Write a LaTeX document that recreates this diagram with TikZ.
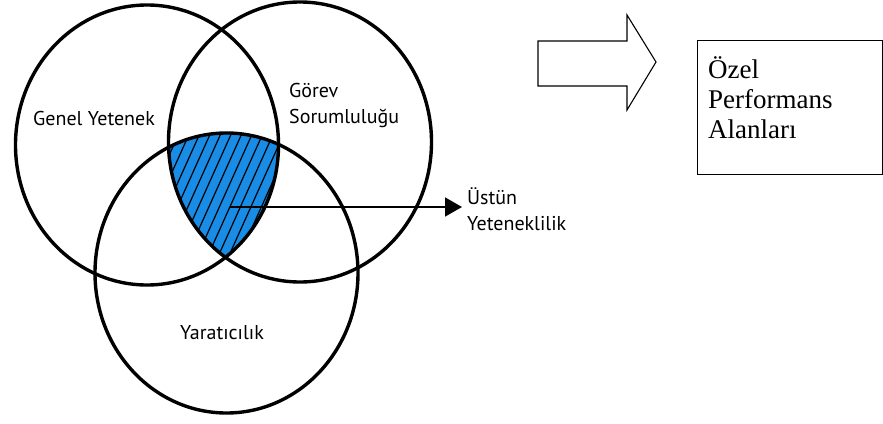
\documentclass[tikz,border=0pt]{standalone}
\usepackage{fontspec}
\setmainfont{Liberation Serif}
\newfontfamily\vennfont{PT Sans}
\usetikzlibrary{arrows.meta}
\definecolor{vennblue}{RGB}{25,140,230}
\tikzset{
  vennline/.style={line width=3.4pt, black},
  vennlabel/.style={font=\vennfont\fontsize{20}{26}\selectfont, anchor=base west, inner sep=0pt, align=left},
  hatchline/.style={line width=1.2pt, black},
  outlinearrow/.style={line width=1.1pt, black, line join=miter},
  plainbox/.style={draw, line width=1.1pt, minimum width=185pt, minimum height=134pt, inner sep=0pt, anchor=north west},
  boxtext/.style={font=\fontsize{27}{30}\selectfont, anchor=base west, inner sep=0pt, align=left}
}
\begin{document}
\begin{tikzpicture}[x=1pt,y=-1pt]
\useasboundingbox[fill=white] (0,0) rectangle (883,423);
% hatched intersection
\begin{scope}
  \clip (147,145) ellipse [x radius=131.5pt, y radius=140pt];
  \clip (300,142) ellipse [x radius=131.5pt, y radius=140pt];
  \clip (226.5,273) ellipse [x radius=131.5pt, y radius=140pt];
  \fill[vennblue] (140,120) rectangle (300,270);
  \foreach \k in {0,...,30} {
    \draw[hatchline] (62+\k*10.5,300) -- (152+\k*10.5,100);
  }
\end{scope}
% circles
\draw[vennline] (147,145) ellipse [x radius=131.5pt, y radius=140pt];
\draw[vennline] (300,142) ellipse [x radius=131.5pt, y radius=140pt];
\draw[vennline] (226.5,273) ellipse [x radius=131.5pt, y radius=140pt];
% labels (base anchor = last line baseline)
\node[vennlabel] (genel) at (33,125) {Genel Yetenek};
\node[vennlabel] (gorev) at (289,123) {Görev\\Sorumluluğu};
\node[vennlabel] (yarat) at (180,339) {Yaratıcılık};
\node[vennlabel] (ustun) at (467,230) {Üstün\\Yeteneklilik};
% arrow to label
\coordinate (astart) at (230,207);
\coordinate (aend) at (462,207);
\draw[line width=1.6pt, -{Triangle[length=17pt,width=19pt]}] (astart) -- (aend);
% outline arrow
\draw[outlinearrow] (538,41) -- (627,41) -- (627,15) -- (656,62) -- (627,110) -- (627,86) -- (538,86) -- cycle;
% box
\node[plainbox] (box) at (697,40) {};
\node[boxtext] (boxtxt) at (708,138) {Özel\\Performans\\Alanları};
\end{tikzpicture}
\end{document}
